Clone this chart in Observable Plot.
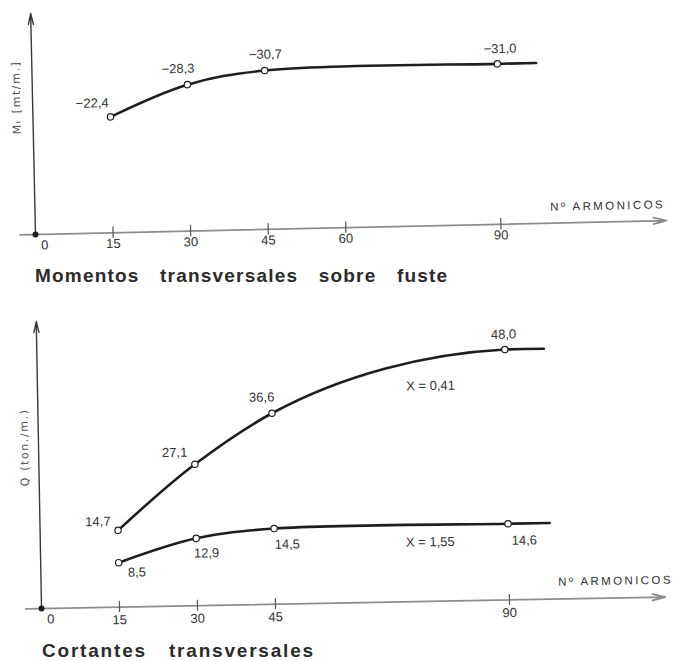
<!DOCTYPE html>
<html>
<head>
<meta charset="utf-8">
<script src="https://cdn.jsdelivr.net/npm/d3@7"></script>
<script src="https://cdn.jsdelivr.net/npm/@observablehq/plot@0.6"></script>
<style>
  body { margin: 0; background: #fff; }
  #fig { position: relative; width: 677px; height: 661px; overflow: hidden; background: #fff;
         font-family: "Liberation Sans", Arial, sans-serif; color: #2a2a2a; }
  .panel { position: absolute; left: 0; }
  .caption { position: absolute; font-size: 19px; font-weight: bold; letter-spacing: 1.2px;
             word-spacing: 14px; line-height: 1; color: #2b2b2b; white-space: nowrap; }
</style>
</head>
<body>
<div id="fig">
  <div id="moments" class="panel" style="top:0;transform-origin:35px 234px;transform:rotate(-1.26deg)"></div>
  <div class="caption" style="left:35px;top:266px">Momentos transversales sobre fuste</div>
  <div id="shear" class="panel" style="top:290px;transform-origin:41px 318px;transform:rotate(-1.05deg)"></div>
  <div class="caption" style="left:42px;top:641px;letter-spacing:1.8px;word-spacing:15px">Cortantes transversales</div>
</div>
<script>
// Number of harmonics used in the series expansion
const harmonics = [15, 30, 45, 90];

// Transverse bending moments on the shaft (mt/m)
const momentValues = [-22.4, -28.3, -30.7, -31.0];
const momentCurveEnd = 97.5;

// Transverse shear forces (ton/m) for two values of X
const shearNames = ["X = 0,41", "X = 1,55"];
const shearA = [14.7, 27.1, 36.6, 48.0];
const shearB = [8.5, 12.9, 14.5, 14.6];
const shearCurveEnds = [97.5, 98];

// Axis ticks and titles
const momentTicks = [15, 30, 45, 60, 90];
const shearTicks = [15, 30, 45, 90];
const originLabel = "0";
const xTitle = "Nº ARMONICOS";
const momentTitle = "Mₜ [mt/m.]";
const shearTitle = "Q (ton./m.)";

const fmt = d3.format(".1f");
const decimal = v => fmt(v).replace(".", ",");

const ink = "#1e1e1e";
const axisGrey = "#8c8c8c";
const textInk = "#333";

// Points at each harmonic count, plus the flat run-out of the curve past the last one
function rows(values, end) {
  const r = harmonics.map((n, i) => ({n, v: values[i]}));
  return {points: r, curve: [...r, {n: end, v: values[values.length - 1]}]};
}

function axes(xMax, yMax, tickHalf, ticks) {
  return [
    Plot.arrow([0], {x1: -3, y1: 0, x2: xMax, y2: 0, stroke: axisGrey, strokeWidth: 1.8,
                     headLength: 11, headAngle: 28}),
    Plot.arrow([0], {x1: 0, y1: 0, x2: 0, y2: yMax, stroke: "#3a3a3a", strokeWidth: 1.4,
                     headLength: 12, headAngle: 26}),
    Plot.ruleX(ticks, {x: d => d, y1: -tickHalf, y2: tickHalf, stroke: "#555", strokeWidth: 1.2}),
    Plot.dot([0], {x: 0, y: 0, r: 3, fill: ink}),
    Plot.text([originLabel], {x: 0, y: 0, dx: 9, dy: 11, fontSize: 13, fill: textInk})
  ];
}

function curveLine(data, tension) {
  return Plot.line(data, {x: "n", y: "v", curve: "catmull-rom", tension, stroke: ink, strokeWidth: 2.6});
}

function valueLabels(points, offsets) {
  return points.map((p, i) => Plot.text([p], {
    x: "n", y: "v", text: d => decimal(d.v),
    dx: offsets[i][0], dy: offsets[i][1], fontSize: 13, fill: textInk
  }));
}

function spaced(svg, label, spacing) {
  d3.select(svg).selectAll("text")
    .filter(function () { return this.textContent === label; })
    .style("letter-spacing", spacing);
}

// Upper panel: bending moments (negative values drawn upward)
const m = rows(momentValues, momentCurveEnd);
const momentPlot = Plot.plot({
  width: 677, height: 256,
  marginLeft: 35, marginRight: 11, marginTop: 13, marginBottom: 22,
  x: {domain: [0, 122], axis: null},
  y: {domain: [0, -42.7], axis: null},
  style: {fontFamily: "Liberation Sans, Arial, sans-serif", background: "transparent", overflow: "visible"},
  marks: [
    ...axes(122, -42.7, 1.1, momentTicks),
    Plot.text(momentTicks, {x: d => d, y: 0, dy: 11, text: d => String(d), fontSize: 13, fill: textInk}),
    Plot.text([xTitle], {x: 122, y: 0, dx: -1, dy: -16, textAnchor: "end", fontSize: 11.5, fill: textInk}),
    Plot.text([momentTitle], {frameAnchor: "left", rotate: -90, dx: -16, dy: 10,
                              fontSize: 11, fill: "#555", fontFamily: "DejaVu Sans"}),
    curveLine(m.curve, 0.5),
    Plot.dot(m.points, {x: "n", y: "v", r: 3.2, fill: "white", stroke: "#222", strokeWidth: 1.2}),
    ...valueLabels(m.points, [[-18, -14], [-9, -16], [1, -16], [3, -15]])
  ]
});
spaced(momentPlot, xTitle, "2.4px");
spaced(momentPlot, momentTitle, "1.6px");
document.getElementById("moments").append(momentPlot);

// Lower panel: shear forces for the two values of X
const a = rows(shearA, shearCurveEnds[0]);
const b = rows(shearB, shearCurveEnds[1]);
const lastA = a.points[a.points.length - 1];
const lastB = b.points[b.points.length - 1];
const shearPlot = Plot.plot({
  width: 677, height: 340,
  marginLeft: 41, marginRight: 12, marginTop: 31, marginBottom: 22,
  x: {domain: [0, 120], axis: null},
  y: {domain: [0, 55], axis: null},
  style: {fontFamily: "Liberation Sans, Arial, sans-serif", background: "transparent", overflow: "visible"},
  marks: [
    ...axes(120, 55, 1.05, shearTicks),
    Plot.text(shearTicks, {x: d => d, y: 0, dy: 13, text: d => String(d), fontSize: 13, fill: textInk}),
    Plot.text([xTitle], {x: 120, y: 0, dx: -107, dy: -17, textAnchor: "start", fontSize: 11.5, fill: textInk}),
    Plot.text([shearTitle], {frameAnchor: "left", rotate: -90, dx: -14, dy: 21,
                             fontSize: 11, fill: "#555", fontFamily: "DejaVu Sans"}),
    curveLine(a.curve, 1),
    curveLine(b.curve, 0.5),
    Plot.dot(a.points, {x: "n", y: "v", r: 3.2, fill: "white", stroke: "#222", strokeWidth: 1.2}),
    Plot.dot(b.points, {x: "n", y: "v", r: 3.2, fill: "white", stroke: "#222", strokeWidth: 1.2}),
    ...valueLabels(a.points, [[-20, -9], [-20, -12], [-10, -16], [-1, -15]]),
    ...valueLabels(b.points, [[18, 10], [10, 15], [13, 16], [16, 17]]),
    Plot.text([lastA], {x: "n", y: "v", text: () => shearNames[0], dx: -75, dy: 35, fontSize: 13, fill: textInk}),
    Plot.text([lastB], {x: "n", y: "v", text: () => shearNames[1], dx: -78, dy: 17, fontSize: 13, fill: textInk})
  ]
});
spaced(shearPlot, xTitle, "2.4px");
spaced(shearPlot, shearTitle, "1.6px");
document.getElementById("shear").append(shearPlot);
</script>
</body>
</html>
